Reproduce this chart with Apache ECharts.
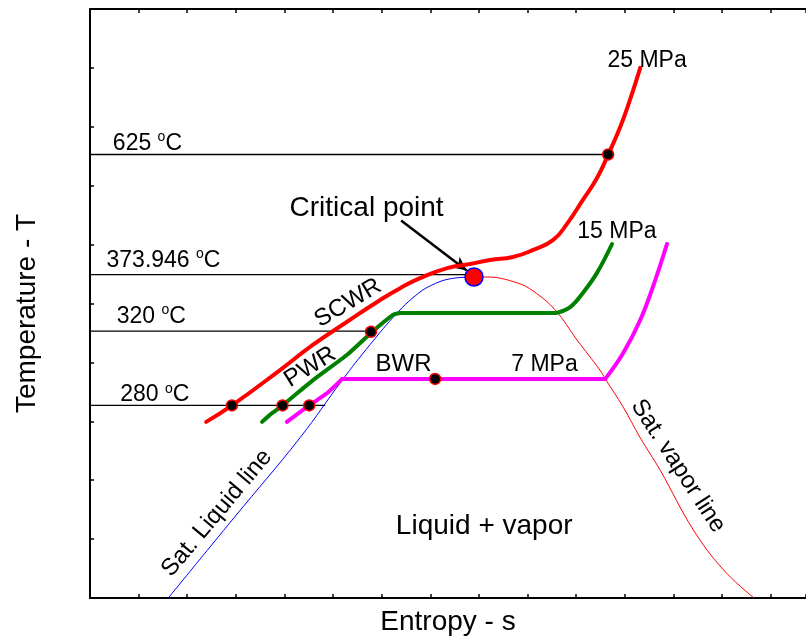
<!DOCTYPE html>
<html>
<head>
<meta charset="utf-8">
<script src="https://cdn.jsdelivr.net/npm/echarts@6/dist/echarts.min.js"></script>
<style>
html,body{margin:0;padding:0;background:#fff;}
#chart{width:806px;height:638px;}
</style>
</head>
<body>
<div id="chart"></div>
<script>
// ---- Data (schematic T-s diagram, arbitrary axis units) ----
const satLiquid = [[1.61,0],[2.96,1.36],[4.32,2.72],[5.19,3.70],[5.76,4.30],[6.32,4.84],[6.69,5.13],[7.00,5.30],[7.41,5.42],[7.90,5.45]];
const satVapor = [[7.90,5.45],[8.17,5.45],[8.79,5.35],[9.12,5.21],[9.57,4.89],[10.02,4.38],[10.49,3.87],[10.60,3.72],[10.97,3.24],[11.32,2.72],[11.73,2.17],[12.41,1.16],[13.03,0.48],[13.66,0]];
const scwr25 = [[2.39,2.99],[2.92,3.27],[3.91,3.87],[4.59,4.30],[5.29,4.69],[5.97,5.06],[6.38,5.26],[6.79,5.43],[7.35,5.60],[7.82,5.67],[8.23,5.74],[8.70,5.79],[9.12,5.91],[9.53,6.08],[9.82,6.36],[10.14,6.76],[10.43,7.13],[10.66,7.53],[10.91,8.00],[11.11,8.46],[11.32,9.00]];
const pwrLiquid = [[3.54,2.99],[3.70,3.11],[3.96,3.27],[4.59,3.70],[5.29,4.13],[5.78,4.50],[6.24,4.81],[6.38,4.84]];
const pwrBoiling = [[6.38,4.84],[9.59,4.84]];
const pwrSteam = [[9.59,4.84],[9.88,4.94],[10.14,5.18],[10.43,5.52],[10.74,6.01]];
const bwrLiquid = [[4.05,2.99],[4.51,3.27],[4.88,3.48],[5.19,3.72]];
const bwrBoiling = [[5.19,3.72],[10.60,3.72]];
const bwrSteam = [[10.60,3.72],[10.97,4.16],[11.32,4.72],[11.58,5.28],[11.87,6.01]];
const stateDots = [[2.92,3.27],[10.66,7.53],[3.96,3.27],[5.78,4.52],[4.51,3.27],[7.10,3.72]];
const criticalPoint = [7.90,5.45];
const isothermValues = ['625','373.946','320','280'];
const isothermY = [7.53,5.49,4.53,3.27];
const isothermEnd = [10.66,7.75,5.78,4.84];
const arrowFrom = [6.40,6.41];
const arrowTo = [7.75,5.56];

// ---- Annotations ----
const FONT = 'Liberation Sans, Arial, sans-serif';
const degLabel = v => '{n|' + v + ' }{s|o}{n|C}';
const annotations = [
  {pos:[0.47,7.72], text:degLabel(isothermValues[0]), align:'left'},
  {pos:[0.34,5.73], text:degLabel(isothermValues[1]), align:'left'},
  {pos:[0.55,4.78], text:degLabel(isothermValues[2]), align:'left'},
  {pos:[0.62,3.45], text:degLabel(isothermValues[3]), align:'left'},
  {pos:[5.69,6.62], text:'{b|Critical point}', align:'center'},
  {pos:[8.11,1.21], text:'{b|Liquid + vapor}', align:'center'},
  {pos:[11.46,9.13], text:'{n|25 MPa}', align:'center'},
  {pos:[10.84,6.22], text:'{n|15 MPa}', align:'center'},
  {pos:[9.35,3.97], text:'{n|7 MPa}', align:'center'},
  {pos:[6.45,3.96], text:'{m|BWR}', align:'center'},
  {pos:[5.31,5.01], text:'{m|SCWR}', align:'center', rotate:31},
  {pos:[4.53,3.92], text:'{m|PWR}', align:'center', rotate:32},
  {pos:[2.61,1.44], text:'{m|Sat. Liquid line}', align:'center', rotate:50},
  {pos:[12.10,2.24], text:'{m|Sat. vapor line}', align:'center', rotate:-57}
];

const rich = {
  n:{fontSize:23, fontFamily:FONT, color:'#000', lineHeight:26, textBorderWidth:0},
  s:{fontSize:14, fontFamily:FONT, color:'#000', verticalAlign:'top', lineHeight:26, textBorderWidth:0},
  b:{fontSize:28, fontFamily:FONT, color:'#000', lineHeight:31, textBorderWidth:0},
  m:{fontSize:24, fontFamily:FONT, color:'#000', lineHeight:28, textBorderWidth:0}
};

function thick(name, data, color, smooth){
  return {type:'line', name:name, data:data, smooth:smooth, showSymbol:false, symbol:'none',
    lineStyle:{color:color, width:4, cap:'round', join:'round'}, z:5, silent:true};
}

const series = [];
// isotherm reference lines
isothermY.forEach((y,i)=>{
  series.push({type:'line', data:[[0,y],[isothermEnd[i],y]], symbol:'none',
    lineStyle:{color:'#000', width:1.3}, z:2, silent:true});
});
// saturation dome
series.push({type:'line', data:satLiquid, smooth:0.4, symbol:'none', lineStyle:{color:'#0000ff', width:1}, z:3});
series.push({type:'line', data:satVapor, smooth:0.4, symbol:'none', lineStyle:{color:'#ff0000', width:1}, z:3});
// process lines
series.push(thick('SCWR', scwr25, '#ff0000', 0.5));
series.push(thick('PWR', pwrLiquid, '#008000', 0.2));
series.push(thick('PWR', pwrBoiling, '#008000', false));
series.push(thick('PWR', pwrSteam, '#008000', 0.4));
series.push(thick('BWR', bwrLiquid, '#ff00ff', 0.2));
series.push(thick('BWR', bwrBoiling, '#ff00ff', false));
series.push(thick('BWR', bwrSteam, '#ff00ff', 0.4));
// arrow
series.push({type:'line', data:[], markLine:{silent:true, symbol:['none','arrow'], symbolSize:[10,14],
  lineStyle:{color:'#000', width:2.5, type:'solid'}, label:{show:false},
  data:[[{coord:arrowFrom},{coord:arrowTo}]]}, z:6});
// state points
series.push({type:'scatter', data:stateDots, symbol:'circle', symbolSize:11,
  itemStyle:{color:'#000', borderColor:'#ff0000', borderWidth:1.5, opacity:1}, z:8});
series.push({type:'scatter', data:[criticalPoint], symbol:'circle', symbolSize:18,
  itemStyle:{color:'#ff0000', borderColor:'#0000ff', borderWidth:1.5, opacity:1}, z:9});
// text annotations
series.push({type:'scatter', symbolSize:0, z:10, silent:true, itemStyle:{opacity:1, color:'#000'},
  data:annotations.map(a=>({value:a.pos, label:{show:true, color:'#000', textBorderWidth:0, opacity:1,
    formatter:a.text, align:a.align, verticalAlign:'middle', rotate:a.rotate||0, position:[0,0], rich:rich}}))});

const axisCommon = {
  type:'value', axisLabel:{show:false}, splitLine:{show:false},
  axisLine:{show:true, onZero:false, lineStyle:{color:'#000', width:2}},
  axisTick:{show:true, inside:true, length:4, lineStyle:{color:'#000', width:1.5}}
};

const option = {
  animation:false,
  backgroundColor:'#fff',
  grid:{left:90, top:9, right:0, height:589, outerBoundsMode:'none', containLabel:false},
  xAxis:[
    Object.assign({}, axisCommon, {min:0, max:14.73, interval:1, position:'bottom',
      name:'Entropy - s', nameLocation:'middle', nameGap:10,
      nameTextStyle:{fontSize:28, color:'#000', fontFamily:FONT}}),
    Object.assign({}, axisCommon, {min:0, max:14.73, interval:1, position:'top'})
  ],
  yAxis:[
    Object.assign({}, axisCommon, {min:0, max:10, interval:1, position:'left',
      name:'Temperature - T', nameLocation:'middle', nameGap:49,
      nameTextStyle:{fontSize:28, color:'#000', fontFamily:FONT, padding:[0,20,0,0]}})
  ],
  series:series
};

const chart = echarts.init(document.getElementById('chart'), null, {renderer:'canvas'});
chart.setOption(option);
</script>
</body>
</html>
